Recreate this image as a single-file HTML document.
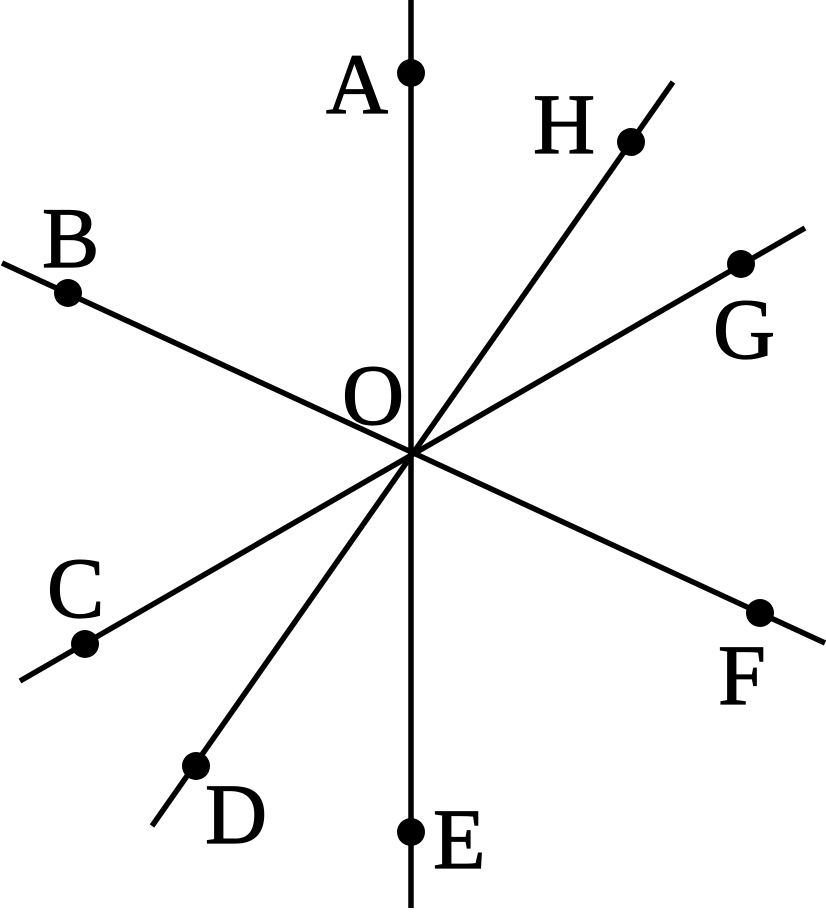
<!DOCTYPE html>
<html><head><style>html,body{margin:0;padding:0;background:#fff;}</style></head>
<body>
<svg width="826" height="908" xmlns="http://www.w3.org/2000/svg">
<g stroke="#000" stroke-width="5.5" stroke-linecap="butt">
<line x1="411" y1="0" x2="411" y2="908"/>
<line x1="2" y1="263" x2="825" y2="643"/>
<line x1="20" y1="681" x2="805" y2="228"/>
<line x1="152" y1="826" x2="673" y2="82"/>
</g>
<g fill="#000">
<circle cx="411" cy="73" r="14"/>
<circle cx="411" cy="832" r="14"/>
<circle cx="68" cy="293" r="14"/>
<circle cx="760" cy="613" r="14"/>
<circle cx="85" cy="644" r="14"/>
<circle cx="741" cy="264" r="14"/>
<circle cx="196" cy="766" r="14"/>
<circle cx="631" cy="142" r="14"/>
</g>
<g font-family="Liberation Serif, serif" font-size="86" fill="#000" stroke="#000" stroke-width="1.2">
<text x="326" y="113">A</text>
<text x="533" y="153">H</text>
<text x="42" y="267">B</text>
<text x="713" y="358">G</text>
<text x="342" y="424">O</text>
<text x="47" y="617">C</text>
<text x="718" y="704">F</text>
<text x="205" y="843">D</text>
<text x="433" y="868">E</text>
</g>
</svg>
</body></html>
